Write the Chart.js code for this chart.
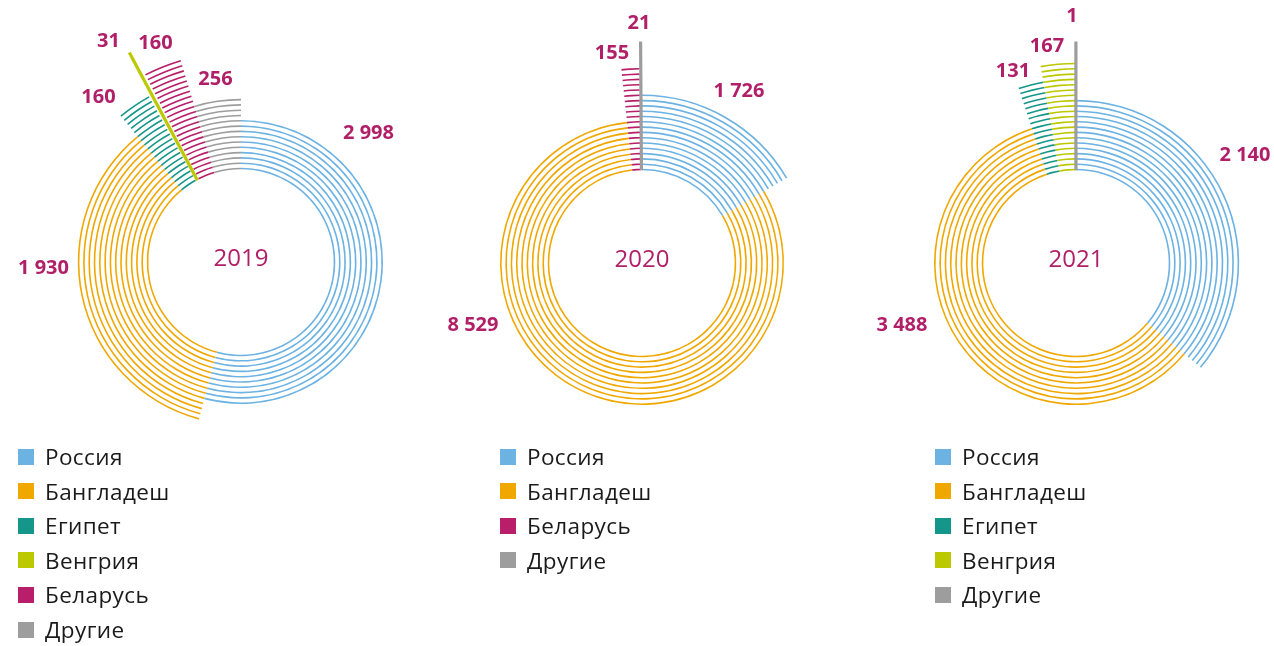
<!DOCTYPE html>
<html><head><meta charset="utf-8">
<script src="https://cdn.jsdelivr.net/npm/chart.js@4.4.1/dist/chart.umd.min.js"></script>
<style>
html,body{margin:0;padding:0;background:#fff;width:1274px;height:646px;overflow:hidden;position:relative;font-family:"Open Sans",sans-serif;}
canvas{position:absolute;}
.legend{position:absolute;}
.item{position:absolute;left:0;height:24px;display:flex;align-items:center;white-space:nowrap;font-size:22.5px;letter-spacing:0.4px;color:#1a1a1a;}
.sw{width:16px;height:16px;margin-right:11px;flex:none;}
</style></head><body>
<script>
// ---- data ----
const years = ['2019', '2020', '2021'];
const categories2019 = ['Россия', 'Бангладеш', 'Египет', 'Венгрия', 'Беларусь', 'Другие'];
const values2019 = [2998, 1930, 160, 31, 160, 256];
const categories2020 = ['Россия', 'Бангладеш', 'Беларусь', 'Другие'];
const values2020 = [1726, 8529, 155, 21];
const categories2021 = ['Россия', 'Бангладеш', 'Египет', 'Венгрия', 'Другие'];
const values2021 = [2140, 3488, 131, 167, 1];

// ---- design (ring counts per segment, label placement) ----
const rings2019 = [10, 14, 19, 28, 23, 14];
const rings2020 = [15, 10, 20, 25];
const rings2021 = [14, 10, 18, 21, 25];
const labelOffsets2019 = [[127.5, -129], [-197.5, 6], [-142.5, -165], [-132.5, -221], [-85.5, -219], [-25.5, -183]];
const labelOffsets2020 = [[97, -172], [-169, 62], [-30, -210], [-3, -240]];
const labelOffsets2021 = [[169, -108], [-174, 62], [-63, -192], [-29, -217], [-4, -247]];
const centers = [[240.5, 262], [642, 263], [1076, 263]];
const legendLeft = [18, 500, 935];

const colorOf = {
  'Россия': '#6cb2e2', 'Бангладеш': '#f0a800', 'Египет': '#15968a',
  'Венгрия': '#bcc800', 'Беларусь': '#b81e6a', 'Другие': '#9d9d9d'
};
const labelColor = '#b01f68';
const INNER = 93.5, PITCH = 5.3, LINE = 1.6;
const CW = 500, CH = 580;

function fmt(v) { return String(v).replace(/\B(?=(\d{3})+(?!\d))/g, ' '); }

function makeChart(idx, cats, vals, rings, offs) {
  const [cx, cy] = centers[idx];
  const cv = document.createElement('canvas');
  cv.width = CW; cv.height = CH;
  cv.style.left = (cx - CW / 2) + 'px';
  cv.style.top = (cy - CH / 2) + 'px';
  cv.style.width = CW + 'px'; cv.style.height = CH + 'px';
  document.body.appendChild(cv);

  const total = vals.reduce((a, b) => a + b, 0);
  const isLine = vals.map(v => v / total < 0.01);
  const colors = cats.map(c => colorOf[c]);
  const M = Math.max(...rings);
  const datasets = [];
  const ringIndex = {};
  for (let k = M - 1; k >= 0; k--) {
    ringIndex[k] = datasets.length;
    datasets.push({
      data: vals.slice(), weight: LINE, borderWidth: 0,
      backgroundColor: vals.map((v, i) => (isLine[i] || rings[i] <= k) ? 'rgba(0,0,0,0)' : colors[i])
    });
    if (k > 0) datasets.push({ data: vals.slice(), weight: PITCH - LINE, borderWidth: 0, backgroundColor: 'rgba(0,0,0,0)' });
  }
  const outerR = INNER + (M - 1) * PITCH + LINE / 2;
  const innerR = INNER - LINE / 2;

  const deco = {
    id: 'deco' + idx,
    afterDatasetsDraw(chart) {
      const ctx = chart.ctx;
      const n = chart.data.datasets.length;
      const innerMeta = chart.getDatasetMeta(n - 1);
      const x0 = innerMeta.data[0].x, y0 = innerMeta.data[0].y;
      ctx.save();
      vals.forEach((v, i) => {
        if (!isLine[i]) return;
        const el = innerMeta.data[i];
        const a = (el.startAngle + el.endAngle) / 2;
        const r0 = el.innerRadius;
        const r1 = chart.getDatasetMeta(ringIndex[rings[i] - 1]).data[i].outerRadius;
        ctx.beginPath();
        ctx.strokeStyle = colors[i];
        ctx.lineWidth = 3.2;
        ctx.moveTo(x0 + Math.cos(a) * r0, y0 + Math.sin(a) * r0);
        ctx.lineTo(x0 + Math.cos(a) * r1, y0 + Math.sin(a) * r1);
        ctx.stroke();
      });
      ctx.fillStyle = labelColor;
      ctx.textAlign = 'center';
      ctx.textBaseline = 'middle';
      ctx.font = 'bold 20px "Open Sans"';
      vals.forEach((v, i) => {
        ctx.fillText(fmt(v), x0 + offs[i][0], y0 + offs[i][1]);
      });
      ctx.font = '24px "Open Sans"';
      ctx.fillText(years[idx], x0, y0 - 3);
      ctx.restore();
    }
  };

  new Chart(cv, {
    type: 'doughnut',
    data: { labels: cats, datasets },
    options: {
      responsive: false, animation: false, devicePixelRatio: 1,
      radius: outerR,
      cutout: (innerR / outerR * 100) + '%',
      layout: { padding: 0 },
      plugins: { legend: { display: false }, tooltip: { enabled: false } },
      events: []
    },
    plugins: [deco]
  });

  const lg = document.createElement('div');
  lg.className = 'legend';
  lg.style.left = legendLeft[idx] + 'px';
  lg.style.top = '0px';
  document.body.appendChild(lg);
  cats.forEach((c, i) => {
    const it = document.createElement('div');
    it.className = 'item';
    it.style.top = (458 + 34.6 * i - 13.5) + 'px';
    const sw = document.createElement('span');
    sw.className = 'sw';
    sw.style.background = colorOf[c];
    const tx = document.createElement('span');
    tx.textContent = c;
    it.appendChild(sw); it.appendChild(tx);
    lg.appendChild(it);
  });
}

makeChart(0, categories2019, values2019, rings2019, labelOffsets2019);
makeChart(1, categories2020, values2020, rings2020, labelOffsets2020);
makeChart(2, categories2021, values2021, rings2021, labelOffsets2021);
</script>
</body></html>
